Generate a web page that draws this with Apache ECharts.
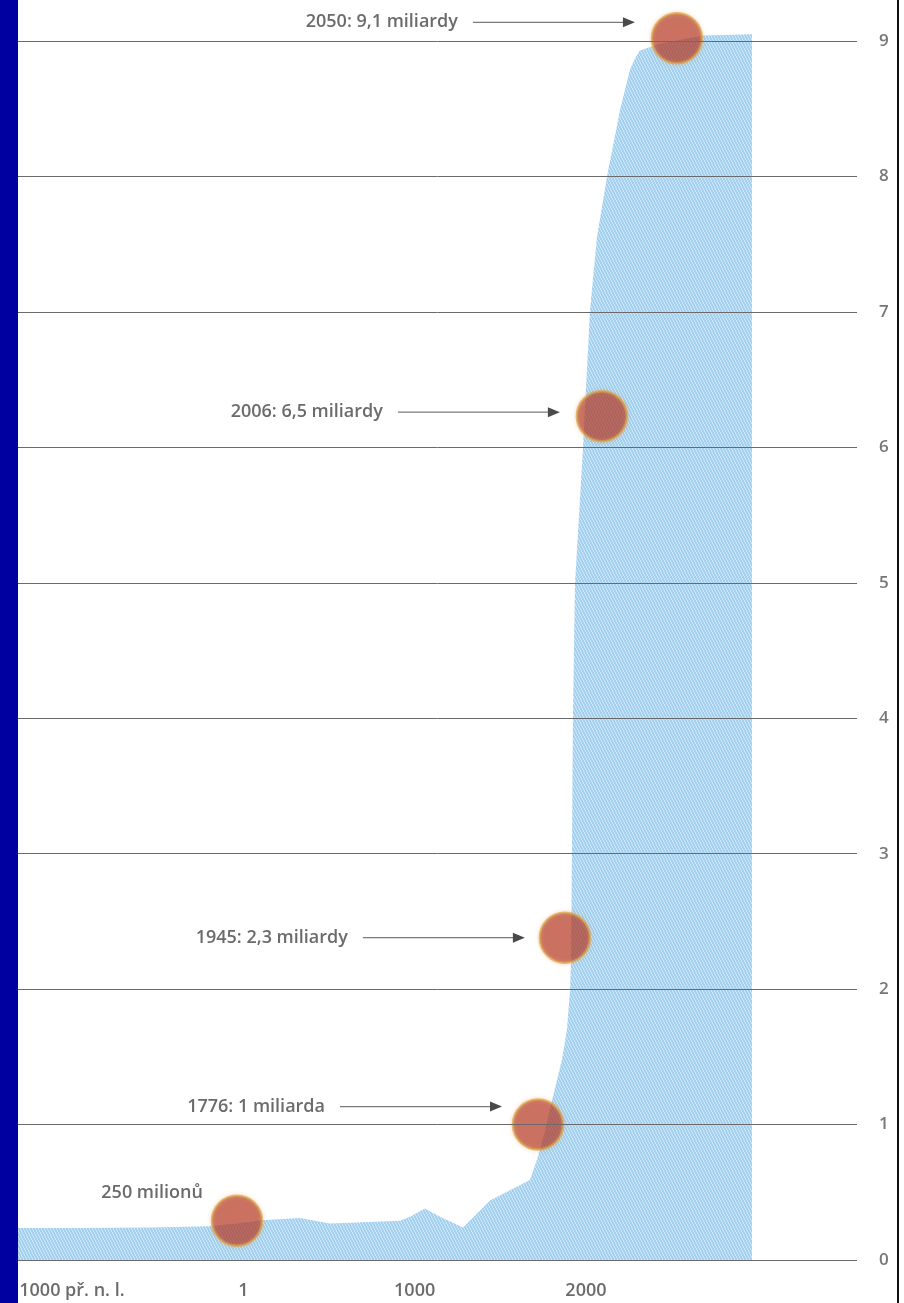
<!DOCTYPE html>
<html>
<head>
<meta charset="utf-8">
<script src="https://cdn.jsdelivr.net/npm/echarts@6/dist/echarts.min.js"></script>
<style>
  html, body { margin: 0; padding: 0; background: #ffffff; }
  #chart { width: 904px; height: 1303px; }
</style>
</head>
<body>
<div id="chart"></div>
<script>
// ---------- DATA (x = position on the drawn year axis) ----------
const axisYears  = [-1000, 1, 1000, 2000];
const axisLabels = ['1000 př. n. l.', '1', '1000', '2000'];

const curveYears = [-1315, -953, -545, -195, -37, 126, 331, 506, 739, 914, 973, 1060, 1148, 1282,
                    1440, 1673, 1714, 1761, 1802, 1860, 1889, 1907, 1913, 1918, 1924, 1936, 1983,
                    2023, 2064, 2123, 2199, 2257, 2290, 2315, 2432, 2683, 2969, 2969];
const curvePop   = [0.236, 0.237, 0.24, 0.25, 0.27, 0.295, 0.31, 0.27, 0.28, 0.29, 0.32, 0.38, 0.32, 0.24,
                    0.44, 0.59, 0.74, 0.95, 1.18, 1.48, 1.70, 1.99, 2.2, 2.99, 3.99, 4.99, 6.0,
                    7.0, 7.55, 8.0, 8.49, 8.79, 8.88, 8.93, 8.98, 9.04, 9.05, 0];

const milestoneYears  = [-37, 1720, 1877, 2093, 2531];
const milestonePop    = [0.29, 1.0, 2.38, 6.23, 9.02];
const milestoneLabels = ['250 milionů', '1776: 1 miliarda', '1945: 2,3 miliardy', '2006: 6,5 miliardy', '2050: 9,1 miliardy'];

// ---------- LAYOUT / STYLE ----------
// offsets of each annotation relative to its circle centre (pixels)
const annLayout = [
  { dy: -28, tipDx: null, textDx: -34 },
  { dy: -18, tipDx: -36 },
  { dy: 0,   tipDx: -40 },
  { dy: -4,  tipDx: -42 },
  { dy: -16, tipDx: -42 }
];
const ARROW_LEN = 162, TEXT_GAP = 15;
const FONT = '"Open Sans", "Noto Sans", sans-serif';
const TEXT_COLOR = '#6b6b6b';

function makePattern() {
  const c = document.createElement('canvas');
  c.width = 3; c.height = 6;
  const ctx = c.getContext('2d');
  ctx.fillStyle = 'rgb(163,208,238)';
  ctx.fillRect(0, 0, 3, 6);
  ctx.fillStyle = 'rgb(205,231,248)';
  for (let y = 0; y < 6; y++) ctx.fillRect(Math.floor(y / 2), y, 1, 1);
  return c;
}

const chart = echarts.init(document.getElementById('chart'), null, { renderer: 'canvas' });

const option = {
  backgroundColor: '#ffffff',
  animation: false,
  grid: { left: 18, right: 47, top: 41, bottom: 43, containLabel: false },
  xAxis: {
    type: 'value',
    min: -1315, max: 3582,
    axisLine: { show: false },
    axisTick: { show: false },
    splitLine: { show: false },
    axisLabel: {
      customValues: axisYears,
      margin: 22,
      color: TEXT_COLOR,
      fontFamily: FONT,
      fontWeight: 600,
      fontSize: 18,
      formatter: function (v) {
        const i = axisYears.indexOf(v);
        return i >= 0 ? axisLabels[i] : '';
      }
    }
  },
  yAxis: {
    type: 'value',
    position: 'right',
    min: 0, max: 9, interval: 1,
    z: 10,
    axisLine: { show: false },
    axisTick: { show: false },
    splitLine: { show: true, lineStyle: { color: '#6a6a6a', width: 1 } },
    axisLabel: {
      margin: 22,
      color: '#777777',
      fontFamily: FONT,
      fontWeight: 600,
      fontSize: 17,
      padding: [0, 0, 10, 0]
    }
  },
  series: [
    {
      type: 'line',
      data: curveYears.map((x, i) => [x, curvePop[i]]),
      showSymbol: false,
      clip: false,
      lineStyle: { width: 0 },
      areaStyle: { color: { image: makePattern(), repeat: 'repeat' }, opacity: 1 },
      z: 2
    },
    {
      type: 'scatter',
      data: milestoneYears.map((x, i) => [x, milestonePop[i]]),
      symbol: 'circle',
      symbolSize: 50,
      clip: false,
      itemStyle: {
        color: 'rgba(170,30,20,0.72)',
        borderColor: 'rgba(222,160,70,0.85)',
        borderWidth: 2.5,
        shadowColor: 'rgba(220,160,80,0.5)',
        shadowBlur: 4
      },
      z: 3
    }
  ]
};
chart.setOption(option);

// annotations positioned from the milestone data through the chart's coordinate system
const graphics = [
  { type: 'rect', z: 100, shape: { x: 0, y: 0, width: 18, height: 1303 }, style: { fill: '#0000a0' } },
  { type: 'rect', z: 100, shape: { x: 897, y: 0, width: 2, height: 1303 }, style: { fill: '#111111' } }
];
milestoneYears.forEach((yr, i) => {
  const p = chart.convertToPixel({ gridIndex: 0 }, [yr, milestonePop[i]]);
  const L = annLayout[i];
  const y = p[1] + L.dy;
  let textRight;
  if (L.tipDx == null) {
    textRight = p[0] + L.textDx;
  } else {
    const tip = p[0] + L.tipDx;
    const start = tip - ARROW_LEN;
    graphics.push({ type: 'line', z: 50, shape: { x1: start, y1: y, x2: tip - 9, y2: y },
                    style: { stroke: '#7a7a7a', lineWidth: 1.2 } });
    graphics.push({ type: 'polygon', z: 50, shape: { points: [[tip, y], [tip - 12, y - 5], [tip - 12, y + 5]] },
                    style: { fill: '#4a4a4a' } });
    textRight = start - TEXT_GAP;
  }
  graphics.push({ type: 'text', z: 50, x: textRight, y: y,
                  style: { text: milestoneLabels[i], fill: TEXT_COLOR, font: '600 18px ' + FONT,
                           align: 'right', verticalAlign: 'middle' } });
});
chart.setOption({ graphic: graphics });
</script>
</body>
</html>
